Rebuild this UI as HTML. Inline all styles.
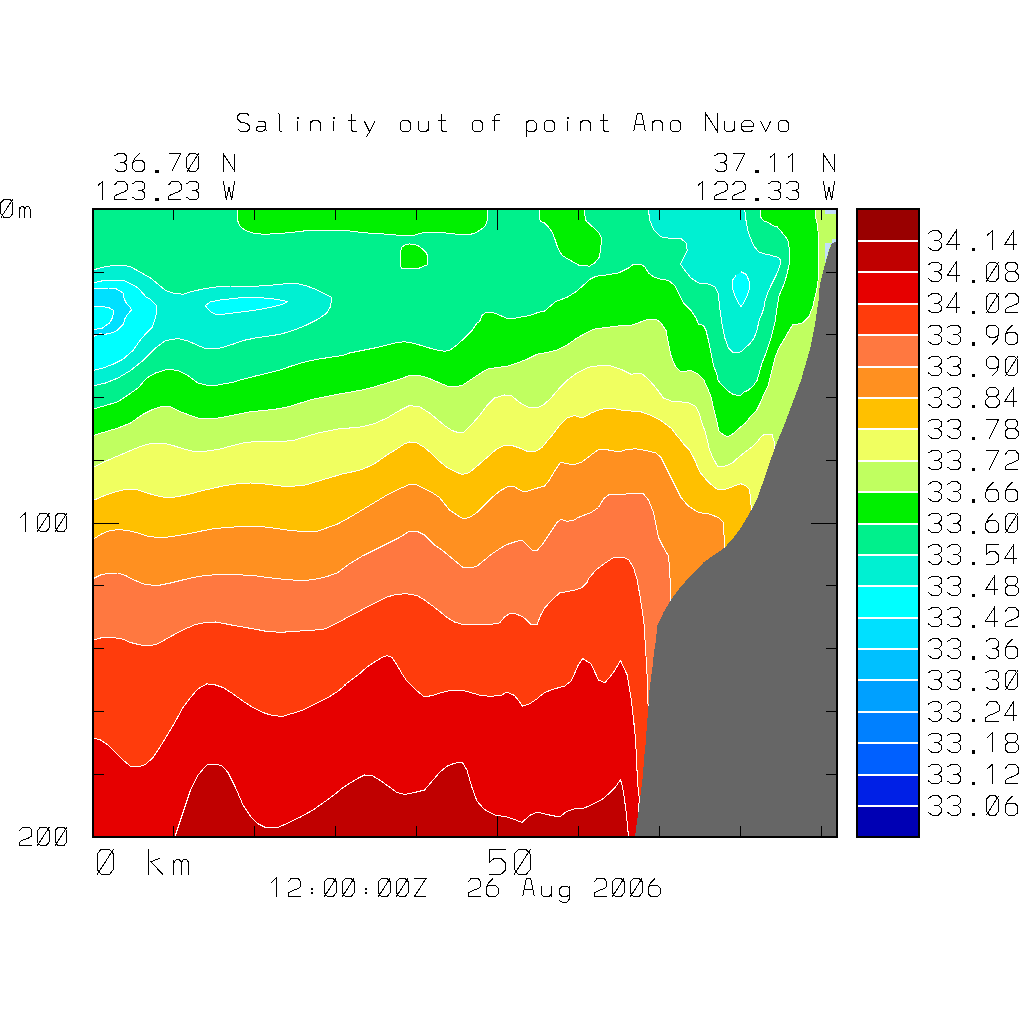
<!DOCTYPE html>
<html><head><meta charset="utf-8"><style>html,body{margin:0;padding:0;background:#fff;overflow:hidden}svg{display:block}</style></head>
<body><svg width="1024" height="1024" viewBox="0 0 1024 1024">
<rect width="1024" height="1024" fill="#fff"/>
<defs><clipPath id="pc"><rect x="93" y="209" width="744" height="628"/></clipPath></defs>
<g clip-path="url(#pc)">
<g shape-rendering="crispEdges">
<rect x="93" y="209" width="744" height="628" fill="#00f08c"/>
<polygon points="93.0,270.0 103.0,267.2 113.0,265.5 123.0,265.0 130.5,266.8 140.5,272.2 150.5,278.0 158.0,284.2 165.5,290.5 173.0,293.0 183.0,294.2 193.0,291.2 205.5,288.5 218.0,286.8 230.5,286.0 243.0,286.2 255.5,286.2 268.0,285.5 280.5,284.2 290.5,283.5 298.0,283.8 305.5,285.5 315.5,289.2 325.5,294.2 331.8,297.5 330.5,306.8 326.8,313.0 318.0,319.2 305.5,325.5 293.0,330.5 280.5,334.2 268.0,336.2 258.0,337.5 243.0,340.5 233.0,344.2 220.5,348.0 205.5,348.5 198.0,345.5 188.0,341.0 178.0,338.5 165.5,340.5 155.5,348.0 143.0,360.5 130.5,370.5 118.0,378.0 105.5,383.0 93.0,386.0" fill="#00f0d2"/>
<polygon points="93.0,282.5 100.0,281.7 103.2,280.2 123.5,280.2 126.6,281.7 132.0,284.5 137.5,287.6 143.0,293.4 146.1,297.0 150.0,298.9 157.0,306.3 156.3,313.8 154.7,320.0 152.4,327.0 146.1,333.3 140.7,339.5 136.8,345.0 133.0,350.5 123.0,359.2 113.0,364.2 103.0,368.0 93.0,370.5" fill="#00ffff"/>
<polygon points="93.0,289.1 100.0,288.6 108.6,288.0 115.7,288.6 119.6,290.7 123.1,293.0 123.9,298.1 126.6,303.6 130.5,307.5 131.3,310.2 127.4,314.5 125.0,318.4 123.5,323.9 118.0,329.4 116.4,331.0 110.2,333.3 103.9,334.5 100.0,333.7 96.1,335.6 93.0,336.4" fill="#00e0ff"/>
<polygon points="93.0,306.3 101.6,306.6 108.6,307.5 113.3,310.2 113.3,314.5 111.8,319.2 109.4,323.1 104.7,326.3 101.6,328.6 93.0,329.4" fill="#00ffff"/>
<polygon points="205.5,305.5 210.5,301.8 220.5,300.0 233.0,298.5 245.5,297.2 258.0,297.5 273.0,298.8 283.0,300.5 287.5,301.8 283.0,304.2 273.0,306.8 263.0,308.8 253.0,310.5 243.0,311.8 233.0,313.0 223.0,314.2 215.5,314.2 210.5,311.8 206.8,308.0" fill="#00ffff"/>
<polygon points="648.5,208.0 648.5,210.5 649.8,220.5 653.5,229.2 661.0,236.8 671.0,238.5 681.0,238.5 686.0,243.0 687.2,250.5 683.5,258.0 680.5,264.2 686.0,271.8 691.0,278.0 698.5,283.0 707.2,283.5 714.8,286.8 718.0,293.0 719.8,308.0 722.2,325.5 724.8,338.0 728.5,348.0 733.5,353.0 741.0,351.8 745.5,347.5 749.9,343.8 753.6,338.8 756.8,331.2 759.2,320.0 762.4,312.5 763.8,308.0 765.3,299.8 767.7,293.0 770.7,286.1 773.6,280.3 776.5,274.4 779.0,268.5 780.4,263.7 780.2,259.8 778.5,257.3 774.1,256.3 769.7,254.9 764.8,253.9 758.5,251.8 753.5,245.5 748.5,233.0 746.0,220.5 744.8,210.5 744.8,208.0" fill="#00f0d2"/>
<polygon points="741.0,271.8 746.0,274.2 749.0,280.5 749.8,288.0 747.2,295.5 743.5,303.0 741.0,306.8 738.5,303.0 734.8,295.5 732.2,288.0 732.2,280.5 736.0,275.5" fill="#00ffff"/>
<polygon points="237.5,208.0 237.5,220.5 240.5,226.8 245.5,230.5 253.0,233.0 263.0,234.2 278.0,233.8 293.0,232.2 308.0,230.5 323.0,230.0 335.5,230.5 343.0,230.0 349.5,231.0 362.0,232.5 374.5,233.5 387.0,234.2 397.8,235.2 414.0,235.2 424.0,232.4 440.2,232.4 456.5,234.2 469.0,234.5 474.0,233.5 479.5,230.5 484.5,226.8 487.0,221.8 487.5,210.5 487.5,208.0" fill="#00f000"/>
<polygon points="539.5,208.0 539.5,210.0 540.1,221.1 544.5,223.0 548.2,226.8 552.0,231.8 554.5,238.0 557.0,245.5 560.1,252.4 563.2,256.1 569.5,259.9 577.0,264.2 579.5,265.5 589.5,266.1 594.5,263.0 598.9,258.0 600.8,249.2 601.4,238.0 599.5,233.6 593.2,227.4 587.0,221.8 585.1,219.2 584.8,210.0 584.8,208.0" fill="#00f000"/>
<polygon points="401.2,268.2 400.5,263.0 400.5,251.8 402.1,246.8 405.2,244.9 409.6,243.9 414.6,244.6 418.4,245.9 422.8,249.2 425.9,252.4 427.5,255.5 427.5,264.9 424.0,266.1 419.0,268.2" fill="#00f000"/>
<polygon points="93.0,409.2 105.5,405.5 118.0,401.8 128.0,395.0 138.0,388.0 146.8,378.0 155.5,373.0 168.0,369.2 178.0,370.5 188.0,375.5 198.0,383.0 205.5,385.0 218.0,385.0 233.0,382.2 243.0,379.2 255.5,376.0 268.0,373.0 280.5,369.8 293.0,365.5 305.5,361.8 318.0,359.2 330.5,357.2 343.0,355.5 349.5,353.0 362.0,350.5 374.5,348.0 387.0,345.0 397.0,342.5 404.5,341.8 412.0,343.0 419.5,345.0 429.5,348.0 437.0,350.0 444.5,351.2 449.5,350.5 457.0,345.0 464.5,338.0 472.0,330.5 477.0,323.0 479.5,321.8 482.0,315.5 485.8,312.4 492.0,312.4 497.0,314.0 506.4,318.2 514.5,318.2 529.5,315.5 538.2,312.4 544.5,311.1 549.5,306.8 555.8,301.5 567.0,297.4 575.8,291.8 583.2,285.5 589.5,279.5 594.5,277.0 598.2,275.9 606.0,275.0 618.5,273.0 628.5,268.0 633.5,264.2 641.0,264.2 644.8,266.8 648.5,273.0 653.5,276.8 661.0,279.2 668.5,280.5 674.8,285.5 678.5,293.0 683.5,303.0 691.0,310.5 696.0,318.0 698.5,324.2 703.5,325.5 706.0,330.5 708.5,340.5 711.0,353.0 713.5,365.5 717.2,375.5 718.0,380.0 720.4,383.5 725.0,388.2 729.7,392.3 733.3,394.6 736.8,395.2 740.9,395.0 743.8,392.3 748.5,390.0 753.2,385.9 757.3,380.0 759.5,372.0 762.0,363.0 766.0,353.0 771.0,338.0 775.0,322.0 777.0,308.0 779.0,295.9 782.4,288.1 785.3,280.3 787.3,272.5 789.2,264.6 789.2,249.0 788.7,243.2 787.3,239.3 784.3,235.3 780.4,230.5 777.0,226.6 772.6,225.6 768.7,222.6 764.3,221.2 760.7,217.3 760.7,210.0 839.0,207.0 839.0,839.0 91.0,839.0" fill="#00f000"/>
<polygon points="93.0,435.5 105.5,431.8 118.0,428.0 130.5,423.0 143.0,414.2 153.0,409.2 163.0,406.0 170.5,406.8 180.5,411.8 190.5,415.5 200.5,418.8 213.0,418.8 225.5,416.8 238.0,414.2 250.5,411.8 263.0,410.5 275.5,409.2 288.0,406.8 300.5,403.0 313.0,399.2 325.5,396.8 338.0,394.2 349.5,392.2 362.0,390.0 374.5,386.8 387.0,383.0 399.5,379.2 409.5,375.5 417.0,375.0 427.0,377.5 437.0,381.8 447.0,386.0 454.5,386.8 462.0,385.5 469.5,380.5 477.0,375.5 487.0,369.2 497.0,367.5 507.0,366.2 517.0,363.0 527.0,359.2 537.0,354.2 547.0,352.5 557.0,350.0 567.0,345.0 577.0,338.0 587.0,332.5 593.5,329.2 606.0,327.5 618.5,326.0 631.0,325.5 641.0,321.8 648.5,319.2 656.0,319.2 661.0,323.0 666.0,330.5 668.5,343.0 671.0,355.5 674.8,365.5 681.0,371.8 691.0,370.5 698.5,374.2 704.0,380.0 705.1,383.5 708.6,390.5 711.6,398.8 713.3,407.0 715.7,416.3 718.0,426.9 719.2,431.6 723.9,435.1 727.4,436.8 732.1,434.5 737.9,429.2 745.0,423.4 750.8,416.3 756.8,410.0 760.5,402.5 763.6,395.0 768.0,386.2 770.5,376.2 773.0,366.2 775.5,356.2 779.2,347.5 783.0,341.2 788.0,332.5 791.8,326.2 793.0,324.4 800.5,323.8 803.0,322.5 809.2,316.2 813.0,306.2 814.2,300.0 816.6,291.0 818.0,281.2 818.3,266.6 818.3,247.0 818.0,231.4 817.1,223.6 815.6,217.8 815.6,210.0 839.0,207.0 839.0,839.0 91.0,839.0" fill="#c0ff60"/>
<polygon points="93.0,467.5 103.0,462.5 113.0,458.0 123.0,453.8 133.0,449.5 143.0,445.5 153.0,443.0 163.0,443.0 173.0,445.5 183.0,448.8 193.0,451.2 205.5,451.2 218.0,449.5 230.5,446.2 243.0,443.0 255.5,441.5 268.0,441.2 280.5,441.5 293.0,440.5 305.5,436.8 318.0,433.0 330.5,430.5 343.0,428.0 349.5,428.0 362.0,426.8 374.5,423.5 387.0,418.0 399.5,410.5 409.5,405.5 419.5,406.8 429.5,413.0 437.0,419.2 444.5,425.5 452.0,430.5 459.5,433.0 464.5,431.8 472.0,424.2 479.5,415.5 487.0,405.5 494.5,398.0 504.5,395.0 512.0,396.0 517.0,400.5 522.0,404.2 529.5,407.5 537.0,408.0 544.5,404.2 552.0,396.8 559.5,388.0 567.0,380.5 577.0,373.0 587.0,368.0 591.0,366.8 601.0,365.5 611.0,366.0 621.0,369.2 631.0,374.2 641.0,373.0 648.5,379.2 656.0,388.0 663.5,398.0 673.5,401.8 677.0,401.7 687.5,402.3 695.8,406.4 699.3,414.0 702.2,423.4 705.1,431.6 707.5,440.9 709.2,449.1 712.2,456.2 717.4,466.1 725.0,466.1 732.1,463.2 737.9,457.9 745.0,452.1 752.0,446.8 757.9,440.9 762.6,435.1 771.9,434.1 774.3,442.1 774.9,450.3 776.0,452.0 839.0,839.0 91.0,839.0" fill="#f0ff60"/>
<polygon points="93.0,500.5 103.0,496.2 113.0,492.5 123.0,490.0 130.5,489.2 138.0,490.0 145.5,492.5 155.5,495.5 165.5,497.5 175.5,497.0 188.0,494.5 200.5,491.2 213.0,488.2 225.5,485.5 238.0,483.8 250.5,483.0 263.0,483.8 273.0,485.0 283.0,486.2 293.0,486.2 305.5,485.0 318.0,481.2 330.5,477.5 343.0,473.8 349.5,472.5 362.0,469.5 374.5,463.8 387.0,455.0 397.0,448.8 404.5,443.8 409.5,442.0 417.0,443.0 424.5,447.5 432.0,453.8 439.5,461.2 447.0,467.5 454.5,471.2 462.0,474.5 469.5,472.5 477.0,466.2 487.0,457.5 497.0,448.8 504.5,445.5 512.0,445.5 519.5,448.0 527.0,451.2 534.5,452.0 542.0,447.5 547.0,441.2 552.0,435.5 559.5,425.5 567.0,418.0 574.5,415.5 582.0,418.0 587.0,415.5 593.0,411.8 591.0,413.0 601.0,409.2 611.0,408.0 621.0,410.0 631.0,411.0 641.0,411.8 651.0,415.5 661.0,420.5 671.0,428.0 677.0,435.7 680.5,439.8 684.0,444.5 688.7,449.1 692.2,455.0 695.2,460.9 697.5,466.7 700.4,472.6 705.1,478.4 711.0,484.3 716.8,489.0 723.9,489.6 729.7,487.8 735.6,485.5 740.9,483.7 746.1,486.1 749.1,489.0 750.2,494.8 750.6,500.0 751.0,505.0 752.0,512.0 839.0,839.0 91.0,839.0" fill="#ffc000"/>
<polygon points="93.0,539.5 100.5,534.5 108.0,531.2 118.0,529.5 128.0,530.5 138.0,533.0 148.0,536.2 158.0,537.5 168.0,537.0 178.0,535.5 188.0,533.8 200.5,531.2 213.0,528.8 225.5,527.5 238.0,526.8 250.5,526.5 263.0,526.8 273.0,528.0 283.0,529.5 293.0,530.8 305.5,531.5 318.0,531.0 328.0,527.5 338.0,523.8 349.5,517.5 362.0,510.0 374.5,502.5 387.0,495.0 399.5,488.8 409.5,484.5 417.0,485.0 424.5,488.8 432.0,492.5 439.5,497.5 444.5,503.8 449.5,510.0 457.0,515.0 463.2,518.8 469.5,517.5 477.0,512.5 484.5,505.0 492.0,497.5 499.5,491.2 507.0,487.0 514.5,486.8 522.0,491.2 527.0,491.2 534.5,488.8 544.5,486.2 549.5,480.0 554.5,471.2 560.8,462.0 567.0,463.8 574.5,464.5 582.0,462.0 591.0,455.0 598.5,449.5 608.5,450.0 619.8,452.0 626.0,449.5 636.0,448.8 646.0,450.5 656.0,453.0 661.0,457.5 666.0,467.5 671.0,477.5 676.0,487.5 681.0,497.5 688.5,506.2 698.5,512.5 708.5,513.8 718.5,517.5 723.5,522.5 724.0,535.0 724.0,547.5 724.0,552.5 839.0,839.0 91.0,839.0" fill="#ff9020"/>
<polygon points="93.0,578.8 100.5,575.0 108.0,573.2 118.0,573.0 125.5,575.5 133.0,579.5 143.0,583.8 150.5,585.0 160.5,585.0 170.5,583.0 180.5,580.5 193.0,577.5 205.5,575.5 218.0,574.5 230.5,574.5 243.0,575.0 255.5,575.8 268.0,577.5 280.5,579.0 293.0,580.0 305.5,580.5 318.0,578.8 328.0,576.2 338.0,572.5 349.5,563.8 362.0,556.2 374.5,550.0 387.0,543.8 399.5,537.5 409.5,531.2 417.0,531.2 424.5,535.0 429.5,540.0 434.5,545.0 442.0,550.0 449.5,556.2 457.0,562.5 463.2,567.5 469.5,568.0 477.0,566.2 484.5,560.0 492.0,553.8 499.5,548.8 507.0,544.5 514.5,542.0 522.0,540.0 527.0,545.0 532.0,550.0 537.0,550.5 542.0,545.0 547.0,537.5 552.0,530.0 557.0,522.5 560.8,519.5 567.0,521.2 573.2,520.5 578.2,517.5 584.5,515.0 591.0,512.5 598.5,507.5 603.5,498.8 608.5,495.0 618.5,494.5 628.5,493.8 643.5,493.8 648.5,500.0 653.5,512.5 656.0,525.0 658.5,537.5 663.5,547.5 668.5,556.2 669.8,570.0 670.2,585.0 670.5,600.0 670.5,610.0 839.0,839.0 91.0,839.0" fill="#ff7840"/>
<polygon points="93.0,640.0 100.5,638.0 108.0,637.0 115.5,638.0 123.0,639.2 130.5,642.5 140.5,645.0 150.5,645.5 158.0,643.8 165.5,639.5 175.5,633.8 185.5,628.8 195.5,624.5 205.5,622.5 215.5,622.0 225.5,623.8 235.5,625.8 245.5,627.5 255.5,629.2 265.5,631.2 275.5,632.0 285.5,632.0 295.5,631.2 305.5,630.8 315.5,630.0 325.5,628.8 335.5,623.8 343.0,620.0 347.0,617.5 357.0,612.5 367.0,607.0 377.0,602.0 387.0,597.0 397.0,594.2 407.0,593.8 417.0,595.5 424.5,600.0 432.0,605.5 439.5,611.2 447.0,617.5 454.5,622.0 462.0,624.2 472.0,624.2 482.0,624.2 492.0,624.2 499.5,623.0 504.5,617.0 509.5,613.8 515.8,613.8 523.2,617.0 527.0,620.5 530.8,624.5 537.0,624.5 540.8,615.0 544.5,608.0 552.0,600.0 559.5,593.0 569.5,591.2 577.0,589.5 582.0,587.5 587.0,582.5 588.5,578.8 596.0,570.0 606.0,562.5 613.5,557.5 622.2,557.0 628.5,559.5 633.5,567.5 637.2,580.0 639.8,595.0 642.2,610.0 644.8,630.0 645.0,640.0 645.5,647.8 646.5,664.4 647.3,679.0 647.7,690.8 648.0,703.5 648.2,712.0 648.2,720.0 839.0,839.0 91.0,839.0" fill="#ff3c0c"/>
<polygon points="93.0,738.0 100.5,740.0 108.0,745.0 115.5,752.5 123.0,760.0 130.5,766.2 138.0,767.0 145.5,764.5 153.0,757.5 160.5,746.2 168.0,733.8 175.5,721.2 183.0,707.5 190.5,697.5 198.0,688.8 206.8,683.8 215.5,685.0 223.0,687.5 233.0,693.8 243.0,701.2 253.0,707.5 263.0,712.5 273.0,715.8 283.0,716.2 293.0,713.2 303.0,710.0 310.5,706.2 318.0,702.5 328.0,697.5 338.0,691.2 345.5,685.0 344.5,685.0 352.0,679.5 359.5,673.8 367.0,667.0 374.5,662.0 382.0,657.5 387.0,655.5 392.0,657.5 397.0,665.0 402.0,673.8 407.0,681.2 414.5,688.8 424.5,697.0 432.0,695.5 442.0,692.5 452.0,690.0 462.0,690.0 472.0,693.0 482.0,695.8 492.0,696.2 500.8,695.5 507.0,692.0 514.5,695.5 518.2,700.0 522.5,706.2 529.5,703.8 537.0,698.8 544.5,692.5 554.5,688.8 564.5,686.2 570.8,681.2 574.5,673.8 578.2,665.0 583.2,658.0 583.0,658.8 591.0,663.8 598.5,680.0 604.8,683.0 613.5,672.5 620.5,660.5 627.2,675.0 631.0,697.5 634.8,730.0 633.5,720.0 635.6,740.0 636.6,761.5 637.6,783.0 639.1,796.6 638.9,810.3 638.5,816.0 839.0,839.0 91.0,839.0" fill="#e60000"/>
<polygon points="174.2,837.5 175.5,835.0 180.5,820.0 185.5,805.0 190.5,790.0 198.0,775.0 206.8,765.0 215.5,764.2 221.8,765.5 228.0,772.5 235.5,787.5 243.0,805.0 250.5,816.2 258.0,823.8 265.5,827.5 278.0,827.5 288.0,823.0 300.5,817.0 313.0,810.0 325.5,801.2 335.5,793.8 343.0,787.5 347.0,785.0 357.0,778.8 364.5,775.0 372.0,775.5 379.5,780.0 389.5,787.0 397.0,792.5 404.5,794.5 414.5,792.5 424.5,790.0 432.0,781.2 439.5,772.5 447.0,766.2 454.5,763.2 462.0,762.0 467.0,770.0 472.0,787.5 477.0,801.2 484.5,809.5 494.5,815.0 507.0,817.0 514.5,819.5 522.0,822.5 529.5,815.5 537.0,812.0 547.0,814.5 559.5,817.0 567.0,811.2 577.0,808.2 584.5,808.0 600.0,800.5 603.9,798.1 609.8,792.7 615.6,786.9 620.5,779.6 622.5,786.9 624.4,798.6 626.4,814.2 628.3,834.7 628.5,838.0" fill="#c00000"/>
</g>
<g fill="none" stroke="#fff" stroke-width="1" shape-rendering="crispEdges" stroke-linejoin="round">
<polyline points="93.0,409.2 105.5,405.5 118.0,401.8 128.0,395.0 138.0,388.0 146.8,378.0 155.5,373.0 168.0,369.2 178.0,370.5 188.0,375.5 198.0,383.0 205.5,385.0 218.0,385.0 233.0,382.2 243.0,379.2 255.5,376.0 268.0,373.0 280.5,369.8 293.0,365.5 305.5,361.8 318.0,359.2 330.5,357.2 343.0,355.5 349.5,353.0 362.0,350.5 374.5,348.0 387.0,345.0 397.0,342.5 404.5,341.8 412.0,343.0 419.5,345.0 429.5,348.0 437.0,350.0 444.5,351.2 449.5,350.5 457.0,345.0 464.5,338.0 472.0,330.5 477.0,323.0 479.5,321.8 482.0,315.5 485.8,312.4 492.0,312.4 497.0,314.0 506.4,318.2 514.5,318.2 529.5,315.5 538.2,312.4 544.5,311.1 549.5,306.8 555.8,301.5 567.0,297.4 575.8,291.8 583.2,285.5 589.5,279.5 594.5,277.0 598.2,275.9 606.0,275.0 618.5,273.0 628.5,268.0 633.5,264.2 641.0,264.2 644.8,266.8 648.5,273.0 653.5,276.8 661.0,279.2 668.5,280.5 674.8,285.5 678.5,293.0 683.5,303.0 691.0,310.5 696.0,318.0 698.5,324.2 703.5,325.5 706.0,330.5 708.5,340.5 711.0,353.0 713.5,365.5 717.2,375.5 718.0,380.0 720.4,383.5 725.0,388.2 729.7,392.3 733.3,394.6 736.8,395.2 740.9,395.0 743.8,392.3 748.5,390.0 753.2,385.9 757.3,380.0 759.5,372.0 762.0,363.0 766.0,353.0 771.0,338.0 775.0,322.0 777.0,308.0 779.0,295.9 782.4,288.1 785.3,280.3 787.3,272.5 789.2,264.6 789.2,249.0 788.7,243.2 787.3,239.3 784.3,235.3 780.4,230.5 777.0,226.6 772.6,225.6 768.7,222.6 764.3,221.2 760.7,217.3 760.7,210.0"/>
<polyline points="93.0,435.5 105.5,431.8 118.0,428.0 130.5,423.0 143.0,414.2 153.0,409.2 163.0,406.0 170.5,406.8 180.5,411.8 190.5,415.5 200.5,418.8 213.0,418.8 225.5,416.8 238.0,414.2 250.5,411.8 263.0,410.5 275.5,409.2 288.0,406.8 300.5,403.0 313.0,399.2 325.5,396.8 338.0,394.2 349.5,392.2 362.0,390.0 374.5,386.8 387.0,383.0 399.5,379.2 409.5,375.5 417.0,375.0 427.0,377.5 437.0,381.8 447.0,386.0 454.5,386.8 462.0,385.5 469.5,380.5 477.0,375.5 487.0,369.2 497.0,367.5 507.0,366.2 517.0,363.0 527.0,359.2 537.0,354.2 547.0,352.5 557.0,350.0 567.0,345.0 577.0,338.0 587.0,332.5 593.5,329.2 606.0,327.5 618.5,326.0 631.0,325.5 641.0,321.8 648.5,319.2 656.0,319.2 661.0,323.0 666.0,330.5 668.5,343.0 671.0,355.5 674.8,365.5 681.0,371.8 691.0,370.5 698.5,374.2 704.0,380.0 705.1,383.5 708.6,390.5 711.6,398.8 713.3,407.0 715.7,416.3 718.0,426.9 719.2,431.6 723.9,435.1 727.4,436.8 732.1,434.5 737.9,429.2 745.0,423.4 750.8,416.3 756.8,410.0 760.5,402.5 763.6,395.0 768.0,386.2 770.5,376.2 773.0,366.2 775.5,356.2 779.2,347.5 783.0,341.2 788.0,332.5 791.8,326.2 793.0,324.4 800.5,323.8 803.0,322.5 809.2,316.2 813.0,306.2 814.2,300.0 816.6,291.0 818.0,281.2 818.3,266.6 818.3,247.0 818.0,231.4 817.1,223.6 815.6,217.8 815.6,210.0"/>
<polyline points="93.0,467.5 103.0,462.5 113.0,458.0 123.0,453.8 133.0,449.5 143.0,445.5 153.0,443.0 163.0,443.0 173.0,445.5 183.0,448.8 193.0,451.2 205.5,451.2 218.0,449.5 230.5,446.2 243.0,443.0 255.5,441.5 268.0,441.2 280.5,441.5 293.0,440.5 305.5,436.8 318.0,433.0 330.5,430.5 343.0,428.0 349.5,428.0 362.0,426.8 374.5,423.5 387.0,418.0 399.5,410.5 409.5,405.5 419.5,406.8 429.5,413.0 437.0,419.2 444.5,425.5 452.0,430.5 459.5,433.0 464.5,431.8 472.0,424.2 479.5,415.5 487.0,405.5 494.5,398.0 504.5,395.0 512.0,396.0 517.0,400.5 522.0,404.2 529.5,407.5 537.0,408.0 544.5,404.2 552.0,396.8 559.5,388.0 567.0,380.5 577.0,373.0 587.0,368.0 591.0,366.8 601.0,365.5 611.0,366.0 621.0,369.2 631.0,374.2 641.0,373.0 648.5,379.2 656.0,388.0 663.5,398.0 673.5,401.8 677.0,401.7 687.5,402.3 695.8,406.4 699.3,414.0 702.2,423.4 705.1,431.6 707.5,440.9 709.2,449.1 712.2,456.2 717.4,466.1 725.0,466.1 732.1,463.2 737.9,457.9 745.0,452.1 752.0,446.8 757.9,440.9 762.6,435.1 771.9,434.1 774.3,442.1 774.9,450.3 776.0,452.0"/>
<polyline points="93.0,500.5 103.0,496.2 113.0,492.5 123.0,490.0 130.5,489.2 138.0,490.0 145.5,492.5 155.5,495.5 165.5,497.5 175.5,497.0 188.0,494.5 200.5,491.2 213.0,488.2 225.5,485.5 238.0,483.8 250.5,483.0 263.0,483.8 273.0,485.0 283.0,486.2 293.0,486.2 305.5,485.0 318.0,481.2 330.5,477.5 343.0,473.8 349.5,472.5 362.0,469.5 374.5,463.8 387.0,455.0 397.0,448.8 404.5,443.8 409.5,442.0 417.0,443.0 424.5,447.5 432.0,453.8 439.5,461.2 447.0,467.5 454.5,471.2 462.0,474.5 469.5,472.5 477.0,466.2 487.0,457.5 497.0,448.8 504.5,445.5 512.0,445.5 519.5,448.0 527.0,451.2 534.5,452.0 542.0,447.5 547.0,441.2 552.0,435.5 559.5,425.5 567.0,418.0 574.5,415.5 582.0,418.0 587.0,415.5 593.0,411.8 591.0,413.0 601.0,409.2 611.0,408.0 621.0,410.0 631.0,411.0 641.0,411.8 651.0,415.5 661.0,420.5 671.0,428.0 677.0,435.7 680.5,439.8 684.0,444.5 688.7,449.1 692.2,455.0 695.2,460.9 697.5,466.7 700.4,472.6 705.1,478.4 711.0,484.3 716.8,489.0 723.9,489.6 729.7,487.8 735.6,485.5 740.9,483.7 746.1,486.1 749.1,489.0 750.2,494.8 750.6,500.0 751.0,505.0 752.0,512.0"/>
<polyline points="93.0,539.5 100.5,534.5 108.0,531.2 118.0,529.5 128.0,530.5 138.0,533.0 148.0,536.2 158.0,537.5 168.0,537.0 178.0,535.5 188.0,533.8 200.5,531.2 213.0,528.8 225.5,527.5 238.0,526.8 250.5,526.5 263.0,526.8 273.0,528.0 283.0,529.5 293.0,530.8 305.5,531.5 318.0,531.0 328.0,527.5 338.0,523.8 349.5,517.5 362.0,510.0 374.5,502.5 387.0,495.0 399.5,488.8 409.5,484.5 417.0,485.0 424.5,488.8 432.0,492.5 439.5,497.5 444.5,503.8 449.5,510.0 457.0,515.0 463.2,518.8 469.5,517.5 477.0,512.5 484.5,505.0 492.0,497.5 499.5,491.2 507.0,487.0 514.5,486.8 522.0,491.2 527.0,491.2 534.5,488.8 544.5,486.2 549.5,480.0 554.5,471.2 560.8,462.0 567.0,463.8 574.5,464.5 582.0,462.0 591.0,455.0 598.5,449.5 608.5,450.0 619.8,452.0 626.0,449.5 636.0,448.8 646.0,450.5 656.0,453.0 661.0,457.5 666.0,467.5 671.0,477.5 676.0,487.5 681.0,497.5 688.5,506.2 698.5,512.5 708.5,513.8 718.5,517.5 723.5,522.5 724.0,535.0 724.0,547.5 724.0,552.5"/>
<polyline points="93.0,578.8 100.5,575.0 108.0,573.2 118.0,573.0 125.5,575.5 133.0,579.5 143.0,583.8 150.5,585.0 160.5,585.0 170.5,583.0 180.5,580.5 193.0,577.5 205.5,575.5 218.0,574.5 230.5,574.5 243.0,575.0 255.5,575.8 268.0,577.5 280.5,579.0 293.0,580.0 305.5,580.5 318.0,578.8 328.0,576.2 338.0,572.5 349.5,563.8 362.0,556.2 374.5,550.0 387.0,543.8 399.5,537.5 409.5,531.2 417.0,531.2 424.5,535.0 429.5,540.0 434.5,545.0 442.0,550.0 449.5,556.2 457.0,562.5 463.2,567.5 469.5,568.0 477.0,566.2 484.5,560.0 492.0,553.8 499.5,548.8 507.0,544.5 514.5,542.0 522.0,540.0 527.0,545.0 532.0,550.0 537.0,550.5 542.0,545.0 547.0,537.5 552.0,530.0 557.0,522.5 560.8,519.5 567.0,521.2 573.2,520.5 578.2,517.5 584.5,515.0 591.0,512.5 598.5,507.5 603.5,498.8 608.5,495.0 618.5,494.5 628.5,493.8 643.5,493.8 648.5,500.0 653.5,512.5 656.0,525.0 658.5,537.5 663.5,547.5 668.5,556.2 669.8,570.0 670.2,585.0 670.5,600.0 670.5,610.0"/>
<polyline points="93.0,640.0 100.5,638.0 108.0,637.0 115.5,638.0 123.0,639.2 130.5,642.5 140.5,645.0 150.5,645.5 158.0,643.8 165.5,639.5 175.5,633.8 185.5,628.8 195.5,624.5 205.5,622.5 215.5,622.0 225.5,623.8 235.5,625.8 245.5,627.5 255.5,629.2 265.5,631.2 275.5,632.0 285.5,632.0 295.5,631.2 305.5,630.8 315.5,630.0 325.5,628.8 335.5,623.8 343.0,620.0 347.0,617.5 357.0,612.5 367.0,607.0 377.0,602.0 387.0,597.0 397.0,594.2 407.0,593.8 417.0,595.5 424.5,600.0 432.0,605.5 439.5,611.2 447.0,617.5 454.5,622.0 462.0,624.2 472.0,624.2 482.0,624.2 492.0,624.2 499.5,623.0 504.5,617.0 509.5,613.8 515.8,613.8 523.2,617.0 527.0,620.5 530.8,624.5 537.0,624.5 540.8,615.0 544.5,608.0 552.0,600.0 559.5,593.0 569.5,591.2 577.0,589.5 582.0,587.5 587.0,582.5 588.5,578.8 596.0,570.0 606.0,562.5 613.5,557.5 622.2,557.0 628.5,559.5 633.5,567.5 637.2,580.0 639.8,595.0 642.2,610.0 644.8,630.0 645.0,640.0 645.5,647.8 646.5,664.4 647.3,679.0 647.7,690.8 648.0,703.5 648.2,712.0 648.2,720.0"/>
<polyline points="93.0,738.0 100.5,740.0 108.0,745.0 115.5,752.5 123.0,760.0 130.5,766.2 138.0,767.0 145.5,764.5 153.0,757.5 160.5,746.2 168.0,733.8 175.5,721.2 183.0,707.5 190.5,697.5 198.0,688.8 206.8,683.8 215.5,685.0 223.0,687.5 233.0,693.8 243.0,701.2 253.0,707.5 263.0,712.5 273.0,715.8 283.0,716.2 293.0,713.2 303.0,710.0 310.5,706.2 318.0,702.5 328.0,697.5 338.0,691.2 345.5,685.0 344.5,685.0 352.0,679.5 359.5,673.8 367.0,667.0 374.5,662.0 382.0,657.5 387.0,655.5 392.0,657.5 397.0,665.0 402.0,673.8 407.0,681.2 414.5,688.8 424.5,697.0 432.0,695.5 442.0,692.5 452.0,690.0 462.0,690.0 472.0,693.0 482.0,695.8 492.0,696.2 500.8,695.5 507.0,692.0 514.5,695.5 518.2,700.0 522.5,706.2 529.5,703.8 537.0,698.8 544.5,692.5 554.5,688.8 564.5,686.2 570.8,681.2 574.5,673.8 578.2,665.0 583.2,658.0 583.0,658.8 591.0,663.8 598.5,680.0 604.8,683.0 613.5,672.5 620.5,660.5 627.2,675.0 631.0,697.5 634.8,730.0 633.5,720.0 635.6,740.0 636.6,761.5 637.6,783.0 639.1,796.6 638.9,810.3 638.5,816.0"/>
<polyline points="174.2,837.5 175.5,835.0 180.5,820.0 185.5,805.0 190.5,790.0 198.0,775.0 206.8,765.0 215.5,764.2 221.8,765.5 228.0,772.5 235.5,787.5 243.0,805.0 250.5,816.2 258.0,823.8 265.5,827.5 278.0,827.5 288.0,823.0 300.5,817.0 313.0,810.0 325.5,801.2 335.5,793.8 343.0,787.5 347.0,785.0 357.0,778.8 364.5,775.0 372.0,775.5 379.5,780.0 389.5,787.0 397.0,792.5 404.5,794.5 414.5,792.5 424.5,790.0 432.0,781.2 439.5,772.5 447.0,766.2 454.5,763.2 462.0,762.0 467.0,770.0 472.0,787.5 477.0,801.2 484.5,809.5 494.5,815.0 507.0,817.0 514.5,819.5 522.0,822.5 529.5,815.5 537.0,812.0 547.0,814.5 559.5,817.0 567.0,811.2 577.0,808.2 584.5,808.0 600.0,800.5 603.9,798.1 609.8,792.7 615.6,786.9 620.5,779.6 622.5,786.9 624.4,798.6 626.4,814.2 628.3,834.7 628.5,838.0"/>
<polyline points="93.0,270.0 103.0,267.2 113.0,265.5 123.0,265.0 130.5,266.8 140.5,272.2 150.5,278.0 158.0,284.2 165.5,290.5 173.0,293.0 183.0,294.2 193.0,291.2 205.5,288.5 218.0,286.8 230.5,286.0 243.0,286.2 255.5,286.2 268.0,285.5 280.5,284.2 290.5,283.5 298.0,283.8 305.5,285.5 315.5,289.2 325.5,294.2 331.8,297.5 330.5,306.8 326.8,313.0 318.0,319.2 305.5,325.5 293.0,330.5 280.5,334.2 268.0,336.2 258.0,337.5 243.0,340.5 233.0,344.2 220.5,348.0 205.5,348.5 198.0,345.5 188.0,341.0 178.0,338.5 165.5,340.5 155.5,348.0 143.0,360.5 130.5,370.5 118.0,378.0 105.5,383.0 93.0,386.0"/>
<polyline points="93.0,282.5 100.0,281.7 103.2,280.2 123.5,280.2 126.6,281.7 132.0,284.5 137.5,287.6 143.0,293.4 146.1,297.0 150.0,298.9 157.0,306.3 156.3,313.8 154.7,320.0 152.4,327.0 146.1,333.3 140.7,339.5 136.8,345.0 133.0,350.5 123.0,359.2 113.0,364.2 103.0,368.0 93.0,370.5"/>
<polyline points="93.0,289.1 100.0,288.6 108.6,288.0 115.7,288.6 119.6,290.7 123.1,293.0 123.9,298.1 126.6,303.6 130.5,307.5 131.3,310.2 127.4,314.5 125.0,318.4 123.5,323.9 118.0,329.4 116.4,331.0 110.2,333.3 103.9,334.5 100.0,333.7 96.1,335.6 93.0,336.4"/>
<polyline points="93.0,306.3 101.6,306.6 108.6,307.5 113.3,310.2 113.3,314.5 111.8,319.2 109.4,323.1 104.7,326.3 101.6,328.6 93.0,329.4"/>
<polyline points="741.0,271.8 746.0,274.2 749.0,280.5 749.8,288.0 747.2,295.5 743.5,303.0 741.0,306.8 738.5,303.0 734.8,295.5 732.2,288.0 732.2,280.5 736.0,275.5"/>
<polyline points="237.5,208.0 237.5,220.5 240.5,226.8 245.5,230.5 253.0,233.0 263.0,234.2 278.0,233.8 293.0,232.2 308.0,230.5 323.0,230.0 335.5,230.5 343.0,230.0 349.5,231.0 362.0,232.5 374.5,233.5 387.0,234.2 397.8,235.2 414.0,235.2 424.0,232.4 440.2,232.4 456.5,234.2 469.0,234.5 474.0,233.5 479.5,230.5 484.5,226.8 487.0,221.8 487.5,210.5 487.5,208.0"/>
<polyline points="539.5,208.0 539.5,210.0 540.1,221.1 544.5,223.0 548.2,226.8 552.0,231.8 554.5,238.0 557.0,245.5 560.1,252.4 563.2,256.1 569.5,259.9 577.0,264.2 579.5,265.5 589.5,266.1 594.5,263.0 598.9,258.0 600.8,249.2 601.4,238.0 599.5,233.6 593.2,227.4 587.0,221.8 585.1,219.2 584.8,210.0 584.8,208.0"/>
<polyline points="205.5,305.5 210.5,301.8 220.5,300.0 233.0,298.5 245.5,297.2 258.0,297.5 273.0,298.8 283.0,300.5 287.5,301.8 283.0,304.2 273.0,306.8 263.0,308.8 253.0,310.5 243.0,311.8 233.0,313.0 223.0,314.2 215.5,314.2 210.5,311.8 206.8,308.0 205.5,305.5"/>
<polyline points="401.2,268.2 400.5,263.0 400.5,251.8 402.1,246.8 405.2,244.9 409.6,243.9 414.6,244.6 418.4,245.9 422.8,249.2 425.9,252.4 427.5,255.5 427.5,264.9 424.0,266.1 419.0,268.2 401.2,268.2"/>
<polyline points="648.5,208.0 648.5,210.5 649.8,220.5 653.5,229.2 661.0,236.8 671.0,238.5 681.0,238.5 686.0,243.0 687.2,250.5 683.5,258.0 680.5,264.2 686.0,271.8 691.0,278.0 698.5,283.0 707.2,283.5 714.8,286.8 718.0,293.0 719.8,308.0 722.2,325.5 724.8,338.0 728.5,348.0 733.5,353.0 741.0,351.8 745.5,347.5 749.9,343.8 753.6,338.8 756.8,331.2 759.2,320.0 762.4,312.5 763.8,308.0 765.3,299.8 767.7,293.0 770.7,286.1 773.6,280.3 776.5,274.4 779.0,268.5 780.4,263.7 780.2,259.8 778.5,257.3 774.1,256.3 769.7,254.9 764.8,253.9 758.5,251.8 753.5,245.5 748.5,233.0 746.0,220.5 744.8,210.5 744.8,208.0 648.5,208.0"/>
</g>
<g shape-rendering="crispEdges"><polygon points="837.0,241.5 835.9,241.7 834.1,242.2 831.7,244.1 829.8,248.0 828.3,252.9 826.3,259.8 824.4,266.6 822.4,274.4 820.5,282.2 819.0,291.0 818.6,300.0 816.7,312.5 814.9,325.0 812.7,336.0 810.5,347.5 808.3,355.0 806.1,362.5 803.6,371.0 801.1,380.0 798.3,387.5 795.5,395.0 792.7,402.5 789.9,410.0 786.5,419.0 783.0,428.0 779.0,437.4 775.4,446.8 771.9,456.2 768.4,466.7 764.9,477.3 761.4,486.6 757.9,497.2 753.5,506.2 748.5,515.0 741.0,527.5 733.5,537.5 724.8,547.5 716.0,553.8 708.5,558.8 703.5,562.5 696.0,570.0 688.5,577.5 683.5,583.8 677.2,591.2 671.0,600.0 663.5,612.5 657.2,626.2 656.0,640.0 654.3,649.8 652.8,664.4 650.9,679.0 649.4,690.8 648.7,703.5 647.7,716.2 646.7,727.9 646.0,740.0 644.4,755.6 642.5,779.0 640.5,794.7 639.1,808.4 637.1,820.0 635.2,835.7 635.0,838.0 837.0,838.0" fill="#666666"/><polygon points="825.0,210.0 836.5,210.0 836.5,214.0 825.0,214.0" fill="#c3defa"/><polygon points="832.2,239.1 836.5,239.1 836.5,241.7 834.3,242.3 832.2,243.5 830.5,245.2 829.6,248.2 828.4,251.7 827.2,255.8 826.1,259.9 825.2,262.8 825.0,262.8 825.0,243.0 832.2,243.0" fill="#c3defa"/></g>
</g>
<g shape-rendering="crispEdges"><rect x="857" y="209" width="62" height="32" fill="#990000"/>
<rect x="857" y="240" width="62" height="32" fill="#c00000"/>
<rect x="857" y="271" width="62" height="33" fill="#e60000"/>
<rect x="857" y="303" width="62" height="32" fill="#ff3c0c"/>
<rect x="857" y="334" width="62" height="33" fill="#ff7840"/>
<rect x="857" y="366" width="62" height="32" fill="#ff9020"/>
<rect x="857" y="397" width="62" height="32" fill="#ffc000"/>
<rect x="857" y="428" width="62" height="33" fill="#f0ff60"/>
<rect x="857" y="460" width="62" height="32" fill="#c0ff60"/>
<rect x="857" y="491" width="62" height="33" fill="#00f000"/>
<rect x="857" y="523" width="62" height="32" fill="#00f08c"/>
<rect x="857" y="554" width="62" height="32" fill="#00f0d2"/>
<rect x="857" y="585" width="62" height="33" fill="#00ffff"/>
<rect x="857" y="617" width="62" height="32" fill="#00e0ff"/>
<rect x="857" y="648" width="62" height="32" fill="#00c0ff"/>
<rect x="857" y="679" width="62" height="33" fill="#00a0ff"/>
<rect x="857" y="711" width="62" height="32" fill="#0080ff"/>
<rect x="857" y="742" width="62" height="33" fill="#0060ff"/>
<rect x="857" y="774" width="62" height="32" fill="#0020e6"/>
<rect x="857" y="805" width="62" height="33" fill="#0000b4"/>
<rect x="857" y="240" width="62" height="2" fill="#fff"/>
<rect x="857" y="271" width="62" height="2" fill="#fff"/>
<rect x="857" y="303" width="62" height="2" fill="#fff"/>
<rect x="857" y="334" width="62" height="2" fill="#fff"/>
<rect x="857" y="366" width="62" height="2" fill="#fff"/>
<rect x="857" y="397" width="62" height="2" fill="#fff"/>
<rect x="857" y="428" width="62" height="2" fill="#fff"/>
<rect x="857" y="460" width="62" height="2" fill="#fff"/>
<rect x="857" y="491" width="62" height="2" fill="#fff"/>
<rect x="857" y="523" width="62" height="2" fill="#fff"/>
<rect x="857" y="554" width="62" height="2" fill="#fff"/>
<rect x="857" y="585" width="62" height="2" fill="#fff"/>
<rect x="857" y="617" width="62" height="2" fill="#fff"/>
<rect x="857" y="648" width="62" height="2" fill="#fff"/>
<rect x="857" y="679" width="62" height="2" fill="#fff"/>
<rect x="857" y="711" width="62" height="2" fill="#fff"/>
<rect x="857" y="742" width="62" height="2" fill="#fff"/>
<rect x="857" y="774" width="62" height="2" fill="#fff"/>
<rect x="857" y="805" width="62" height="2" fill="#fff"/></g>
<g fill="#000" shape-rendering="crispEdges">
<rect x="173" y="210" width="1" height="10"/>
<rect x="173" y="826" width="1" height="10"/>
<rect x="254" y="210" width="1" height="10"/>
<rect x="254" y="826" width="1" height="10"/>
<rect x="335" y="210" width="1" height="10"/>
<rect x="335" y="826" width="1" height="10"/>
<rect x="416" y="210" width="1" height="10"/>
<rect x="416" y="826" width="1" height="10"/>
<rect x="497" y="210" width="1" height="20"/>
<rect x="497" y="816" width="1" height="20"/>
<rect x="578" y="210" width="1" height="10"/>
<rect x="578" y="826" width="1" height="10"/>
<rect x="659" y="210" width="1" height="10"/>
<rect x="659" y="826" width="1" height="10"/>
<rect x="740" y="210" width="1" height="10"/>
<rect x="740" y="826" width="1" height="10"/>
<rect x="821" y="210" width="1" height="10"/>
<rect x="821" y="826" width="1" height="10"/>
<rect x="94" y="272" width="10" height="1"/>
<rect x="826" y="272" width="10" height="1"/>
<rect x="94" y="334" width="10" height="1"/>
<rect x="826" y="334" width="10" height="1"/>
<rect x="94" y="397" width="10" height="1"/>
<rect x="826" y="397" width="10" height="1"/>
<rect x="94" y="460" width="10" height="1"/>
<rect x="826" y="460" width="10" height="1"/>
<rect x="94" y="523" width="25" height="1"/>
<rect x="811" y="523" width="25" height="1"/>
<rect x="94" y="585" width="10" height="1"/>
<rect x="826" y="585" width="10" height="1"/>
<rect x="94" y="648" width="10" height="1"/>
<rect x="826" y="648" width="10" height="1"/>
<rect x="94" y="711" width="10" height="1"/>
<rect x="826" y="711" width="10" height="1"/>
<rect x="94" y="774" width="10" height="1"/>
<rect x="826" y="774" width="10" height="1"/>
</g>
<rect x="93" y="209" width="744" height="628" fill="none" stroke="#000" stroke-width="2" shape-rendering="crispEdges"/>
<rect x="857" y="209" width="62" height="628" fill="none" stroke="#000" stroke-width="2" shape-rendering="crispEdges"/>
<g fill="none" stroke="#000" stroke-width="1" shape-rendering="crispEdges">
<polyline points="928.13,233.42 932.18,230.85 938.27,230.85 941.13,233.42 941.13,237.93 938.27,240.50 934.24,240.50"/>
<polyline points="938.27,240.50 941.13,243.07 941.13,247.58 938.27,250.15 932.18,250.15 928.13,247.15"/>
<polyline points="956.02,250.15 956.02,230.85 947.01,244.57 959.88,244.57"/>
<polyline points="987.12,235.35 992.27,230.85 992.27,250.15"/>
<polyline points="1013.62,250.15 1013.62,230.85 1004.61,244.57 1017.48,244.57"/>
<rect x="971.89" y="248.22" width="3.22" height="3.22" fill="#000" stroke="none"/>
<polyline points="928.13,264.81 932.18,262.24 938.27,262.24 941.13,264.81 941.13,269.32 938.27,271.89 934.24,271.89"/>
<polyline points="938.27,271.89 941.13,274.46 941.13,278.97 938.27,281.54 932.18,281.54 928.13,278.54"/>
<polyline points="956.02,281.54 956.02,262.24 947.01,275.96 959.88,275.96"/>
<polyline points="989.48,262.24 995.49,262.24 998.60,265.89 998.60,277.68 995.49,281.54 989.48,281.54 986.27,277.68 986.27,265.89 989.48,262.24"/>
<polyline points="986.27,281.54 998.70,262.24"/>
<polyline points="1008.34,262.24 1014.95,262.24 1017.69,265.03 1017.69,268.46 1014.95,271.38 1008.34,271.38 1005.60,268.46 1005.60,265.03 1008.34,262.24"/>
<polyline points="1008.34,271.38 1005.04,274.68 1005.04,278.75 1007.83,281.54 1015.46,281.54 1018.33,278.75 1018.33,274.68 1014.95,271.38"/>
<rect x="971.89" y="279.61" width="3.22" height="3.22" fill="#000" stroke="none"/>
<polyline points="928.13,296.20 932.18,293.63 938.27,293.63 941.13,296.20 941.13,300.71 938.27,303.28 934.24,303.28"/>
<polyline points="938.27,303.28 941.13,305.85 941.13,310.36 938.27,312.93 932.18,312.93 928.13,309.93"/>
<polyline points="956.02,312.93 956.02,293.63 947.01,307.35 959.88,307.35"/>
<polyline points="989.48,293.63 995.49,293.63 998.60,297.28 998.60,309.07 995.49,312.93 989.48,312.93 986.27,309.07 986.27,297.28 989.48,293.63"/>
<polyline points="986.27,312.93 998.70,293.63"/>
<polyline points="1005.25,297.49 1008.25,293.84 1015.55,293.84 1018.33,296.85 1018.33,302.64 1015.55,304.57 1007.83,307.57 1005.04,309.71 1005.04,312.93 1018.33,312.93"/>
<rect x="971.89" y="311.00" width="3.22" height="3.22" fill="#000" stroke="none"/>
<polyline points="928.13,327.59 932.18,325.02 938.27,325.02 941.13,327.59 941.13,332.10 938.27,334.67 934.24,334.67"/>
<polyline points="938.27,334.67 941.13,337.24 941.13,341.75 938.27,344.32 932.18,344.32 928.13,341.32"/>
<polyline points="947.33,327.59 951.38,325.02 957.47,325.02 960.33,327.59 960.33,332.10 957.47,334.67 953.44,334.67"/>
<polyline points="957.47,334.67 960.33,337.24 960.33,341.75 957.47,344.32 951.38,344.32 947.33,341.32"/>
<polyline points="998.38,335.10 995.14,337.24 989.55,337.24 986.27,334.03 986.27,328.45 989.55,325.02 995.14,325.02 998.38,328.45 998.38,335.10 997.20,339.17 992.06,344.32"/>
<polyline points="1012.54,325.02 1007.40,330.17 1005.04,335.10 1005.04,341.10 1008.15,344.32 1014.90,344.32 1017.90,341.75 1017.90,335.53 1014.90,332.31 1008.15,332.31 1005.04,335.10"/>
<rect x="971.89" y="342.39" width="3.22" height="3.22" fill="#000" stroke="none"/>
<polyline points="928.13,358.98 932.18,356.41 938.27,356.41 941.13,358.98 941.13,363.49 938.27,366.06 934.24,366.06"/>
<polyline points="938.27,366.06 941.13,368.63 941.13,373.14 938.27,375.71 932.18,375.71 928.13,372.71"/>
<polyline points="947.33,358.98 951.38,356.41 957.47,356.41 960.33,358.98 960.33,363.49 957.47,366.06 953.44,366.06"/>
<polyline points="957.47,366.06 960.33,368.63 960.33,373.14 957.47,375.71 951.38,375.71 947.33,372.71"/>
<polyline points="998.38,366.49 995.14,368.63 989.55,368.63 986.27,365.42 986.27,359.84 989.55,356.41 995.14,356.41 998.38,359.84 998.38,366.49 997.20,370.56 992.06,375.71"/>
<polyline points="1008.68,356.41 1014.69,356.41 1017.80,360.06 1017.80,371.85 1014.69,375.71 1008.68,375.71 1005.47,371.85 1005.47,360.06 1008.68,356.41"/>
<polyline points="1005.47,375.71 1017.90,356.41"/>
<rect x="971.89" y="373.78" width="3.22" height="3.22" fill="#000" stroke="none"/>
<polyline points="928.13,390.37 932.18,387.80 938.27,387.80 941.13,390.37 941.13,394.88 938.27,397.45 934.24,397.45"/>
<polyline points="938.27,397.45 941.13,400.02 941.13,404.53 938.27,407.10 932.18,407.10 928.13,404.10"/>
<polyline points="947.33,390.37 951.38,387.80 957.47,387.80 960.33,390.37 960.33,394.88 957.47,397.45 953.44,397.45"/>
<polyline points="957.47,397.45 960.33,400.02 960.33,404.53 957.47,407.10 951.38,407.10 947.33,404.10"/>
<polyline points="989.14,387.80 995.75,387.80 998.49,390.59 998.49,394.02 995.75,396.94 989.14,396.94 986.40,394.02 986.40,390.59 989.14,387.80"/>
<polyline points="989.14,396.94 985.84,400.24 985.84,404.31 988.63,407.10 996.26,407.10 999.13,404.31 999.13,400.24 995.75,396.94"/>
<polyline points="1013.62,407.10 1013.62,387.80 1004.61,401.52 1017.48,401.52"/>
<rect x="971.89" y="405.17" width="3.22" height="3.22" fill="#000" stroke="none"/>
<polyline points="928.13,421.76 932.18,419.19 938.27,419.19 941.13,421.76 941.13,426.27 938.27,428.84 934.24,428.84"/>
<polyline points="938.27,428.84 941.13,431.41 941.13,435.92 938.27,438.49 932.18,438.49 928.13,435.49"/>
<polyline points="947.33,421.76 951.38,419.19 957.47,419.19 960.33,421.76 960.33,426.27 957.47,428.84 953.44,428.84"/>
<polyline points="957.47,428.84 960.33,431.41 960.33,435.92 957.47,438.49 951.38,438.49 947.33,435.49"/>
<polyline points="986.27,419.19 998.70,419.19 989.27,438.49"/>
<polyline points="1008.34,419.19 1014.95,419.19 1017.69,421.98 1017.69,425.41 1014.95,428.33 1008.34,428.33 1005.60,425.41 1005.60,421.98 1008.34,419.19"/>
<polyline points="1008.34,428.33 1005.04,431.63 1005.04,435.70 1007.83,438.49 1015.46,438.49 1018.33,435.70 1018.33,431.63 1014.95,428.33"/>
<rect x="971.89" y="436.56" width="3.22" height="3.22" fill="#000" stroke="none"/>
<polyline points="928.13,453.15 932.18,450.58 938.27,450.58 941.13,453.15 941.13,457.66 938.27,460.23 934.24,460.23"/>
<polyline points="938.27,460.23 941.13,462.80 941.13,467.31 938.27,469.88 932.18,469.88 928.13,466.88"/>
<polyline points="947.33,453.15 951.38,450.58 957.47,450.58 960.33,453.15 960.33,457.66 957.47,460.23 953.44,460.23"/>
<polyline points="957.47,460.23 960.33,462.80 960.33,467.31 957.47,469.88 951.38,469.88 947.33,466.88"/>
<polyline points="986.27,450.58 998.70,450.58 989.27,469.88"/>
<polyline points="1005.25,454.44 1008.25,450.79 1015.55,450.79 1018.33,453.80 1018.33,459.59 1015.55,461.52 1007.83,464.52 1005.04,466.66 1005.04,469.88 1018.33,469.88"/>
<rect x="971.89" y="467.95" width="3.22" height="3.22" fill="#000" stroke="none"/>
<polyline points="928.13,484.54 932.18,481.97 938.27,481.97 941.13,484.54 941.13,489.05 938.27,491.62 934.24,491.62"/>
<polyline points="938.27,491.62 941.13,494.19 941.13,498.70 938.27,501.27 932.18,501.27 928.13,498.27"/>
<polyline points="947.33,484.54 951.38,481.97 957.47,481.97 960.33,484.54 960.33,489.05 957.47,491.62 953.44,491.62"/>
<polyline points="957.47,491.62 960.33,494.19 960.33,498.70 957.47,501.27 951.38,501.27 947.33,498.27"/>
<polyline points="993.34,481.97 988.20,487.12 985.84,492.05 985.84,498.05 988.95,501.27 995.70,501.27 998.70,498.70 998.70,492.48 995.70,489.26 988.95,489.26 985.84,492.05"/>
<polyline points="1012.54,481.97 1007.40,487.12 1005.04,492.05 1005.04,498.05 1008.15,501.27 1014.90,501.27 1017.90,498.70 1017.90,492.48 1014.90,489.26 1008.15,489.26 1005.04,492.05"/>
<rect x="971.89" y="499.34" width="3.22" height="3.22" fill="#000" stroke="none"/>
<polyline points="928.13,515.93 932.18,513.36 938.27,513.36 941.13,515.93 941.13,520.44 938.27,523.01 934.24,523.01"/>
<polyline points="938.27,523.01 941.13,525.58 941.13,530.09 938.27,532.66 932.18,532.66 928.13,529.66"/>
<polyline points="947.33,515.93 951.38,513.36 957.47,513.36 960.33,515.93 960.33,520.44 957.47,523.01 953.44,523.01"/>
<polyline points="957.47,523.01 960.33,525.58 960.33,530.09 957.47,532.66 951.38,532.66 947.33,529.66"/>
<polyline points="993.34,513.36 988.20,518.51 985.84,523.44 985.84,529.44 988.95,532.66 995.70,532.66 998.70,530.09 998.70,523.87 995.70,520.65 988.95,520.65 985.84,523.44"/>
<polyline points="1008.68,513.36 1014.69,513.36 1017.80,517.01 1017.80,528.80 1014.69,532.66 1008.68,532.66 1005.47,528.80 1005.47,517.01 1008.68,513.36"/>
<polyline points="1005.47,532.66 1017.90,513.36"/>
<rect x="971.89" y="530.73" width="3.22" height="3.22" fill="#000" stroke="none"/>
<polyline points="928.13,547.32 932.18,544.75 938.27,544.75 941.13,547.32 941.13,551.83 938.27,554.40 934.24,554.40"/>
<polyline points="938.27,554.40 941.13,556.97 941.13,561.48 938.27,564.05 932.18,564.05 928.13,561.05"/>
<polyline points="947.33,547.32 951.38,544.75 957.47,544.75 960.33,547.32 960.33,551.83 957.47,554.40 953.44,554.40"/>
<polyline points="957.47,554.40 960.33,556.97 960.33,561.48 957.47,564.05 951.38,564.05 947.33,561.05"/>
<polyline points="998.70,544.75 986.27,544.75 986.27,554.61 990.13,551.61 995.06,551.61 998.70,555.26 998.70,560.83 995.06,564.05 986.27,564.05"/>
<polyline points="1013.62,564.05 1013.62,544.75 1004.61,558.47 1017.48,558.47"/>
<rect x="971.89" y="562.12" width="3.22" height="3.22" fill="#000" stroke="none"/>
<polyline points="928.13,578.71 932.18,576.14 938.27,576.14 941.13,578.71 941.13,583.22 938.27,585.79 934.24,585.79"/>
<polyline points="938.27,585.79 941.13,588.36 941.13,592.87 938.27,595.44 932.18,595.44 928.13,592.44"/>
<polyline points="947.33,578.71 951.38,576.14 957.47,576.14 960.33,578.71 960.33,583.22 957.47,585.79 953.44,585.79"/>
<polyline points="957.47,585.79 960.33,588.36 960.33,592.87 957.47,595.44 951.38,595.44 947.33,592.44"/>
<polyline points="994.42,595.44 994.42,576.14 985.41,589.86 998.28,589.86"/>
<polyline points="1008.34,576.14 1014.95,576.14 1017.69,578.93 1017.69,582.36 1014.95,585.28 1008.34,585.28 1005.60,582.36 1005.60,578.93 1008.34,576.14"/>
<polyline points="1008.34,585.28 1005.04,588.58 1005.04,592.65 1007.83,595.44 1015.46,595.44 1018.33,592.65 1018.33,588.58 1014.95,585.28"/>
<rect x="971.89" y="593.51" width="3.22" height="3.22" fill="#000" stroke="none"/>
<polyline points="928.13,610.10 932.18,607.53 938.27,607.53 941.13,610.10 941.13,614.61 938.27,617.18 934.24,617.18"/>
<polyline points="938.27,617.18 941.13,619.75 941.13,624.26 938.27,626.83 932.18,626.83 928.13,623.83"/>
<polyline points="947.33,610.10 951.38,607.53 957.47,607.53 960.33,610.10 960.33,614.61 957.47,617.18 953.44,617.18"/>
<polyline points="957.47,617.18 960.33,619.75 960.33,624.26 957.47,626.83 951.38,626.83 947.33,623.83"/>
<polyline points="994.42,626.83 994.42,607.53 985.41,621.25 998.28,621.25"/>
<polyline points="1005.25,611.39 1008.25,607.74 1015.55,607.74 1018.33,610.75 1018.33,616.54 1015.55,618.47 1007.83,621.47 1005.04,623.61 1005.04,626.83 1018.33,626.83"/>
<rect x="971.89" y="624.90" width="3.22" height="3.22" fill="#000" stroke="none"/>
<polyline points="928.13,641.49 932.18,638.92 938.27,638.92 941.13,641.49 941.13,646.00 938.27,648.57 934.24,648.57"/>
<polyline points="938.27,648.57 941.13,651.14 941.13,655.65 938.27,658.22 932.18,658.22 928.13,655.22"/>
<polyline points="947.33,641.49 951.38,638.92 957.47,638.92 960.33,641.49 960.33,646.00 957.47,648.57 953.44,648.57"/>
<polyline points="957.47,648.57 960.33,651.14 960.33,655.65 957.47,658.22 951.38,658.22 947.33,655.22"/>
<polyline points="985.73,641.49 989.78,638.92 995.87,638.92 998.73,641.49 998.73,646.00 995.87,648.57 991.84,648.57"/>
<polyline points="995.87,648.57 998.73,651.14 998.73,655.65 995.87,658.22 989.78,658.22 985.73,655.22"/>
<polyline points="1012.54,638.92 1007.40,644.07 1005.04,649.00 1005.04,655.00 1008.15,658.22 1014.90,658.22 1017.90,655.65 1017.90,649.43 1014.90,646.21 1008.15,646.21 1005.04,649.00"/>
<rect x="971.89" y="656.29" width="3.22" height="3.22" fill="#000" stroke="none"/>
<polyline points="928.13,672.88 932.18,670.31 938.27,670.31 941.13,672.88 941.13,677.39 938.27,679.96 934.24,679.96"/>
<polyline points="938.27,679.96 941.13,682.53 941.13,687.04 938.27,689.61 932.18,689.61 928.13,686.61"/>
<polyline points="947.33,672.88 951.38,670.31 957.47,670.31 960.33,672.88 960.33,677.39 957.47,679.96 953.44,679.96"/>
<polyline points="957.47,679.96 960.33,682.53 960.33,687.04 957.47,689.61 951.38,689.61 947.33,686.61"/>
<polyline points="985.73,672.88 989.78,670.31 995.87,670.31 998.73,672.88 998.73,677.39 995.87,679.96 991.84,679.96"/>
<polyline points="995.87,679.96 998.73,682.53 998.73,687.04 995.87,689.61 989.78,689.61 985.73,686.61"/>
<polyline points="1008.68,670.31 1014.69,670.31 1017.80,673.96 1017.80,685.75 1014.69,689.61 1008.68,689.61 1005.47,685.75 1005.47,673.96 1008.68,670.31"/>
<polyline points="1005.47,689.61 1017.90,670.31"/>
<rect x="971.89" y="687.68" width="3.22" height="3.22" fill="#000" stroke="none"/>
<polyline points="928.13,704.27 932.18,701.70 938.27,701.70 941.13,704.27 941.13,708.78 938.27,711.35 934.24,711.35"/>
<polyline points="938.27,711.35 941.13,713.92 941.13,718.43 938.27,721.00 932.18,721.00 928.13,718.00"/>
<polyline points="947.33,704.27 951.38,701.70 957.47,701.70 960.33,704.27 960.33,708.78 957.47,711.35 953.44,711.35"/>
<polyline points="957.47,711.35 960.33,713.92 960.33,718.43 957.47,721.00 951.38,721.00 947.33,718.00"/>
<polyline points="986.05,705.56 989.05,701.91 996.35,701.91 999.13,704.92 999.13,710.71 996.35,712.64 988.63,715.64 985.84,717.78 985.84,721.00 999.13,721.00"/>
<polyline points="1013.62,721.00 1013.62,701.70 1004.61,715.42 1017.48,715.42"/>
<rect x="971.89" y="719.07" width="3.22" height="3.22" fill="#000" stroke="none"/>
<polyline points="928.13,735.66 932.18,733.09 938.27,733.09 941.13,735.66 941.13,740.17 938.27,742.74 934.24,742.74"/>
<polyline points="938.27,742.74 941.13,745.31 941.13,749.82 938.27,752.39 932.18,752.39 928.13,749.39"/>
<polyline points="947.33,735.66 951.38,733.09 957.47,733.09 960.33,735.66 960.33,740.17 957.47,742.74 953.44,742.74"/>
<polyline points="957.47,742.74 960.33,745.31 960.33,749.82 957.47,752.39 951.38,752.39 947.33,749.39"/>
<polyline points="987.12,737.59 992.27,733.09 992.27,752.39"/>
<polyline points="1008.34,733.09 1014.95,733.09 1017.69,735.88 1017.69,739.31 1014.95,742.23 1008.34,742.23 1005.60,739.31 1005.60,735.88 1008.34,733.09"/>
<polyline points="1008.34,742.23 1005.04,745.53 1005.04,749.60 1007.83,752.39 1015.46,752.39 1018.33,749.60 1018.33,745.53 1014.95,742.23"/>
<rect x="971.89" y="750.46" width="3.22" height="3.22" fill="#000" stroke="none"/>
<polyline points="928.13,767.05 932.18,764.48 938.27,764.48 941.13,767.05 941.13,771.56 938.27,774.13 934.24,774.13"/>
<polyline points="938.27,774.13 941.13,776.70 941.13,781.21 938.27,783.78 932.18,783.78 928.13,780.78"/>
<polyline points="947.33,767.05 951.38,764.48 957.47,764.48 960.33,767.05 960.33,771.56 957.47,774.13 953.44,774.13"/>
<polyline points="957.47,774.13 960.33,776.70 960.33,781.21 957.47,783.78 951.38,783.78 947.33,780.78"/>
<polyline points="987.12,768.98 992.27,764.48 992.27,783.78"/>
<polyline points="1005.25,768.34 1008.25,764.69 1015.55,764.69 1018.33,767.70 1018.33,773.49 1015.55,775.42 1007.83,778.42 1005.04,780.56 1005.04,783.78 1018.33,783.78"/>
<rect x="971.89" y="781.85" width="3.22" height="3.22" fill="#000" stroke="none"/>
<polyline points="928.13,798.44 932.18,795.87 938.27,795.87 941.13,798.44 941.13,802.95 938.27,805.52 934.24,805.52"/>
<polyline points="938.27,805.52 941.13,808.09 941.13,812.60 938.27,815.17 932.18,815.17 928.13,812.17"/>
<polyline points="947.33,798.44 951.38,795.87 957.47,795.87 960.33,798.44 960.33,802.95 957.47,805.52 953.44,805.52"/>
<polyline points="957.47,805.52 960.33,808.09 960.33,812.60 957.47,815.17 951.38,815.17 947.33,812.17"/>
<polyline points="989.48,795.87 995.49,795.87 998.60,799.52 998.60,811.31 995.49,815.17 989.48,815.17 986.27,811.31 986.27,799.52 989.48,795.87"/>
<polyline points="986.27,815.17 998.70,795.87"/>
<polyline points="1012.54,795.87 1007.40,801.02 1005.04,805.95 1005.04,811.95 1008.15,815.17 1014.90,815.17 1017.90,812.60 1017.90,806.38 1014.90,803.16 1008.15,803.16 1005.04,805.95"/>
<rect x="971.89" y="813.24" width="3.22" height="3.22" fill="#000" stroke="none"/>
<polyline points="248.93,116.12 247.32,113.30 240.28,113.30 237.67,115.71 237.67,118.93 240.28,121.95 246.92,123.56 249.33,125.97 249.33,129.19 247.32,131.40 240.28,131.40 237.67,128.38"/>
<polyline points="258.28,121.34 263.71,121.34 265.72,123.15 265.72,129.79 267.53,131.40"/>
<polyline points="265.72,126.37 258.28,126.37 256.27,127.98 256.27,129.79 258.28,131.40 262.10,131.40 265.72,129.19"/>
<polyline points="278.09,113.30 279.30,114.31 279.30,130.39 280.51,131.40 281.91,131.40"/>
<polyline points="297.50,120.74 297.50,131.40"/>
<polyline points="310.27,120.74 310.27,131.40"/>
<polyline points="310.27,123.15 312.58,120.74 318.42,120.74 320.73,123.15 320.73,131.40"/>
<polyline points="333.50,120.74 333.50,131.40"/>
<polyline points="351.50,114.31 351.50,129.79 352.91,131.40 356.53,131.40"/>
<polyline points="348.18,120.94 356.33,120.94"/>
<polyline points="364.07,120.74 369.70,131.80"/>
<polyline points="375.13,120.74 369.70,131.80 366.38,136.63"/>
<polyline points="402.48,120.74 408.32,120.74 410.73,123.15 410.73,129.19 408.32,131.40 402.48,131.40 400.07,129.19 400.07,123.15 402.48,120.74"/>
<polyline points="418.27,120.74 418.27,129.19 420.58,131.40 425.91,131.40 428.23,129.19"/>
<polyline points="428.23,120.74 428.23,131.40"/>
<polyline points="441.50,114.31 441.50,129.79 442.91,131.40 446.53,131.40"/>
<polyline points="438.18,120.94 446.33,120.94"/>
<polyline points="474.48,120.74 480.32,120.74 482.73,123.15 482.73,129.19 480.32,131.40 474.48,131.40 472.07,129.19 472.07,123.15 474.48,120.74"/>
<polyline points="494.49,131.40 494.49,116.72 496.51,114.51 500.13,114.51"/>
<polyline points="491.88,120.74 500.33,120.74"/>
<polyline points="526.27,120.74 526.27,136.83"/>
<polyline points="526.27,123.15 528.68,120.74 533.91,120.74 536.33,123.15 536.33,129.19 533.91,131.40 528.68,131.40 526.27,129.19"/>
<polyline points="546.48,120.74 552.32,120.74 554.73,123.15 554.73,129.19 552.32,131.40 546.48,131.40 544.07,129.19 544.07,123.15 546.48,120.74"/>
<polyline points="567.50,120.74 567.50,131.40"/>
<polyline points="580.27,120.74 580.27,131.40"/>
<polyline points="580.27,123.15 582.58,120.74 588.42,120.74 590.73,123.15 590.73,131.40"/>
<polyline points="603.50,114.31 603.50,129.79 604.91,131.40 608.53,131.40"/>
<polyline points="600.18,120.94 608.33,120.94"/>
<polyline points="633.77,131.40 637.39,113.30 641.61,113.30 645.23,131.40"/>
<polyline points="634.57,124.56 644.43,124.56"/>
<polyline points="652.27,120.74 652.27,131.40"/>
<polyline points="652.27,123.15 654.58,120.74 660.42,120.74 662.73,123.15 662.73,131.40"/>
<polyline points="672.48,120.74 678.32,120.74 680.73,123.15 680.73,129.19 678.32,131.40 672.48,131.40 670.07,129.19 670.07,123.15 672.48,120.74"/>
<polyline points="705.67,131.40 705.67,113.30 717.33,131.40 717.33,113.30"/>
<polyline points="724.27,120.74 724.27,129.19 726.58,131.40 731.91,131.40 734.23,129.19"/>
<polyline points="734.23,120.74 734.23,131.40"/>
<polyline points="741.67,126.17 753.33,126.17 753.33,123.26 751.02,120.74 743.98,120.74 741.67,123.26 741.67,129.19 743.98,131.40 751.02,131.40 753.33,129.69"/>
<polyline points="760.47,120.74 765.70,131.40 770.93,120.74"/>
<polyline points="780.48,120.74 786.32,120.74 788.73,123.15 788.73,129.19 786.32,131.40 780.48,131.40 778.07,129.19 778.07,123.15 780.48,120.74"/>
<rect x="296.70" y="116.92" width="2.01" height="2.01" fill="#000" stroke="none"/>
<rect x="332.70" y="116.92" width="2.01" height="2.01" fill="#000" stroke="none"/>
<rect x="566.70" y="116.92" width="2.01" height="2.01" fill="#000" stroke="none"/>
<polyline points="114.46,155.91 118.26,153.50 123.98,153.50 126.65,155.91 126.65,160.14 123.98,162.55 120.20,162.55"/>
<polyline points="123.98,162.55 126.65,164.96 126.65,169.19 123.98,171.60 118.26,171.60 114.46,168.78"/>
<polyline points="139.60,153.50 134.78,158.33 132.56,162.95 132.56,168.58 135.48,171.60 141.82,171.60 144.63,169.19 144.63,163.35 141.82,160.34 135.48,160.34 132.56,162.95"/>
<polyline points="168.97,153.50 180.63,153.50 171.78,171.60"/>
<polyline points="189.98,153.50 195.61,153.50 198.53,156.92 198.53,167.98 195.61,171.60 189.98,171.60 186.97,167.98 186.97,156.92 189.98,153.50"/>
<polyline points="186.97,171.60 198.63,153.50"/>
<polyline points="223.17,171.60 223.17,153.50 234.83,171.60 234.83,153.50"/>
<rect x="155.49" y="169.79" width="3.02" height="3.02" fill="#000" stroke="none"/>
<polyline points="97.71,185.67 102.59,181.40 102.59,199.70"/>
<polyline points="114.70,185.06 117.54,181.60 124.46,181.60 127.10,184.45 127.10,189.94 124.46,191.77 117.14,194.62 114.49,196.65 114.49,199.70 127.10,199.70"/>
<polyline points="132.39,183.84 136.23,181.40 142.01,181.40 144.71,183.84 144.71,188.11 142.01,190.55 138.19,190.55"/>
<polyline points="142.01,190.55 144.71,192.99 144.71,197.26 142.01,199.70 136.23,199.70 132.39,196.85"/>
<polyline points="168.70,185.06 171.54,181.60 178.46,181.60 181.10,184.45 181.10,189.94 178.46,191.77 171.14,194.62 168.49,196.65 168.49,199.70 181.10,199.70"/>
<polyline points="186.39,183.84 190.23,181.40 196.01,181.40 198.71,183.84 198.71,188.11 196.01,190.55 192.19,190.55"/>
<polyline points="196.01,190.55 198.71,192.99 198.71,197.26 196.01,199.70 190.23,199.70 186.39,196.85"/>
<polyline points="223.51,181.40 226.25,199.70 229.00,187.50 231.75,199.70 234.49,181.40"/>
<rect x="155.47" y="197.87" width="3.05" height="3.05" fill="#000" stroke="none"/>
<polyline points="714.46,155.91 718.26,153.50 723.98,153.50 726.65,155.91 726.65,160.14 723.98,162.55 720.20,162.55"/>
<polyline points="723.98,162.55 726.65,164.96 726.65,169.19 723.98,171.60 718.26,171.60 714.46,168.78"/>
<polyline points="732.97,153.50 744.63,153.50 735.78,171.60"/>
<polyline points="769.77,157.72 774.60,153.50 774.60,171.60"/>
<polyline points="787.77,157.72 792.60,153.50 792.60,171.60"/>
<polyline points="823.17,171.60 823.17,153.50 834.83,171.60 834.83,153.50"/>
<rect x="755.49" y="169.79" width="3.02" height="3.02" fill="#000" stroke="none"/>
<polyline points="697.71,185.67 702.59,181.40 702.59,199.70"/>
<polyline points="714.70,185.06 717.54,181.60 724.46,181.60 727.10,184.45 727.10,189.94 724.46,191.77 717.14,194.62 714.49,196.65 714.49,199.70 727.10,199.70"/>
<polyline points="732.70,185.06 735.54,181.60 742.46,181.60 745.10,184.45 745.10,189.94 742.46,191.77 735.14,194.62 732.49,196.65 732.49,199.70 745.10,199.70"/>
<polyline points="768.39,183.84 772.23,181.40 778.01,181.40 780.71,183.84 780.71,188.11 778.01,190.55 774.19,190.55"/>
<polyline points="778.01,190.55 780.71,192.99 780.71,197.26 778.01,199.70 772.23,199.70 768.39,196.85"/>
<polyline points="786.39,183.84 790.23,181.40 796.01,181.40 798.71,183.84 798.71,188.11 796.01,190.55 792.19,190.55"/>
<polyline points="796.01,190.55 798.71,192.99 798.71,197.26 796.01,199.70 790.23,199.70 786.39,196.85"/>
<polyline points="823.51,181.40 826.25,199.70 829.00,187.50 831.75,199.70 834.49,181.40"/>
<rect x="755.48" y="197.87" width="3.05" height="3.05" fill="#000" stroke="none"/>
<polyline points="4.02,199.30 9.68,199.30 12.61,202.74 12.61,213.86 9.68,217.50 4.02,217.50 0.98,213.86 0.98,202.74 4.02,199.30"/>
<polyline points="0.98,217.50 12.71,199.30"/>
<polyline points="19.59,206.78 19.59,217.50"/>
<polyline points="19.59,209.21 21.21,206.78 23.53,206.78 24.85,208.80 24.85,217.50"/>
<polyline points="24.85,208.80 26.26,206.78 28.89,206.78 30.31,209.41 30.31,217.50"/>
<polyline points="20.46,517.52 25.39,513.20 25.39,531.70"/>
<polyline points="40.42,513.20 46.17,513.20 49.15,516.69 49.15,528.00 46.17,531.70 40.42,531.70 37.33,528.00 37.33,516.69 40.42,513.20"/>
<polyline points="37.33,531.70 49.26,513.20"/>
<polyline points="58.12,513.20 63.87,513.20 66.85,516.69 66.85,528.00 63.87,531.70 58.12,531.70 55.03,528.00 55.03,516.69 58.12,513.20"/>
<polyline points="55.03,531.70 66.96,513.20"/>
<polyline points="19.43,830.90 22.31,827.41 29.29,827.41 31.97,830.28 31.97,835.83 29.29,837.68 21.89,840.56 19.22,842.62 19.22,845.70 31.97,845.70"/>
<polyline points="40.42,827.20 46.17,827.20 49.15,830.69 49.15,842.00 46.17,845.70 40.42,845.70 37.33,842.00 37.33,830.69 40.42,827.20"/>
<polyline points="37.33,845.70 49.26,827.20"/>
<polyline points="58.12,827.20 63.87,827.20 66.85,830.69 66.85,842.00 63.87,845.70 58.12,845.70 55.03,842.00 55.03,830.69 58.12,827.20"/>
<polyline points="55.03,845.70 66.96,827.20"/>
<polyline points="101.40,849.10 109.33,849.10 113.44,853.92 113.44,869.50 109.33,874.60 101.40,874.60 97.15,869.50 97.15,853.92 101.40,849.10"/>
<polyline points="97.15,874.60 113.58,849.10"/>
<polyline points="148.60,849.10 148.60,874.60"/>
<polyline points="159.93,858.17 150.87,861.85 163.05,874.60"/>
<polyline points="173.90,859.58 173.90,874.60"/>
<polyline points="173.90,862.98 176.17,859.58 179.43,859.58 181.27,862.42 181.27,874.60"/>
<polyline points="181.27,862.42 183.25,859.58 186.93,859.58 188.92,863.27 188.92,874.60"/>
<polyline points="505.58,849.40 489.47,849.40 489.47,862.18 494.47,858.29 500.86,858.29 505.58,863.01 505.58,870.23 500.86,874.40 489.47,874.40"/>
<polyline points="518.43,849.40 526.21,849.40 530.24,854.12 530.24,869.40 526.21,874.40 518.43,874.40 514.27,869.40 514.27,854.12 518.43,849.40"/>
<polyline points="514.27,874.40 530.38,849.40"/>
<polyline points="271.24,882.55 276.10,878.30 276.10,896.50"/>
<polyline points="288.23,881.94 291.06,878.50 297.94,878.50 300.57,881.33 300.57,886.79 297.94,888.61 290.66,891.44 288.03,893.47 288.03,896.50 300.57,896.50"/>
<polyline points="327.47,878.30 333.13,878.30 336.06,881.74 336.06,892.86 333.13,896.50 327.47,896.50 324.43,892.86 324.43,881.74 327.47,878.30"/>
<polyline points="324.43,896.50 336.16,878.30"/>
<polyline points="345.47,878.30 351.13,878.30 354.06,881.74 354.06,892.86 351.13,896.50 345.47,896.50 342.43,892.86 342.43,881.74 345.47,878.30"/>
<polyline points="342.43,896.50 354.16,878.30"/>
<polyline points="381.47,878.30 387.13,878.30 390.06,881.74 390.06,892.86 387.13,896.50 381.47,896.50 378.43,892.86 378.43,881.74 381.47,878.30"/>
<polyline points="378.43,896.50 390.16,878.30"/>
<polyline points="399.47,878.30 405.13,878.30 408.06,881.74 408.06,892.86 405.13,896.50 399.47,896.50 396.43,892.86 396.43,881.74 399.47,878.30"/>
<polyline points="396.43,896.50 408.16,878.30"/>
<polyline points="414.43,878.30 426.16,878.30 414.43,896.50 426.16,896.50"/>
<polyline points="468.23,881.94 471.06,878.50 477.94,878.50 480.57,881.33 480.57,886.79 477.94,888.61 470.66,891.44 468.03,893.47 468.03,896.50 480.57,896.50"/>
<polyline points="493.11,878.30 488.25,883.15 486.03,887.80 486.03,893.47 488.96,896.50 495.33,896.50 498.16,894.07 498.16,888.21 495.33,885.18 488.96,885.18 486.03,887.80"/>
<polyline points="522.74,896.50 526.38,878.30 530.62,878.30 534.26,896.50"/>
<polyline points="523.55,889.62 533.45,889.62"/>
<polyline points="541.24,885.78 541.24,894.28 543.57,896.50 548.93,896.50 551.25,894.28"/>
<polyline points="551.25,885.78 551.25,896.50"/>
<polyline points="569.45,886.39 569.45,899.13 566.52,902.36 562.38,902.36 559.24,900.34"/>
<polyline points="569.45,888.61 567.13,886.39 562.38,886.39 559.24,889.22 559.24,893.87 561.87,896.30 567.13,896.30 569.45,894.48"/>
<polyline points="594.23,881.94 597.06,878.50 603.94,878.50 606.57,881.33 606.57,886.79 603.94,888.61 596.66,891.44 594.03,893.47 594.03,896.50 606.57,896.50"/>
<polyline points="615.47,878.30 621.13,878.30 624.06,881.74 624.06,892.86 621.13,896.50 615.47,896.50 612.43,892.86 612.43,881.74 615.47,878.30"/>
<polyline points="612.43,896.50 624.16,878.30"/>
<polyline points="633.47,878.30 639.13,878.30 642.06,881.74 642.06,892.86 639.13,896.50 633.47,896.50 630.43,892.86 630.43,881.74 633.47,878.30"/>
<polyline points="630.43,896.50 642.16,878.30"/>
<polyline points="655.11,878.30 650.25,883.15 648.03,887.80 648.03,893.47 650.96,896.50 657.33,896.50 660.16,894.07 660.16,888.21 657.33,885.18 650.96,885.18 648.03,887.80"/>
<rect x="310.98" y="888.41" width="2.02" height="2.02" fill="#000" stroke="none"/>
<rect x="310.98" y="892.46" width="2.02" height="2.02" fill="#000" stroke="none"/>
<rect x="364.98" y="888.41" width="2.02" height="2.02" fill="#000" stroke="none"/>
<rect x="364.98" y="892.46" width="2.02" height="2.02" fill="#000" stroke="none"/>
</g>
</svg></body></html>
